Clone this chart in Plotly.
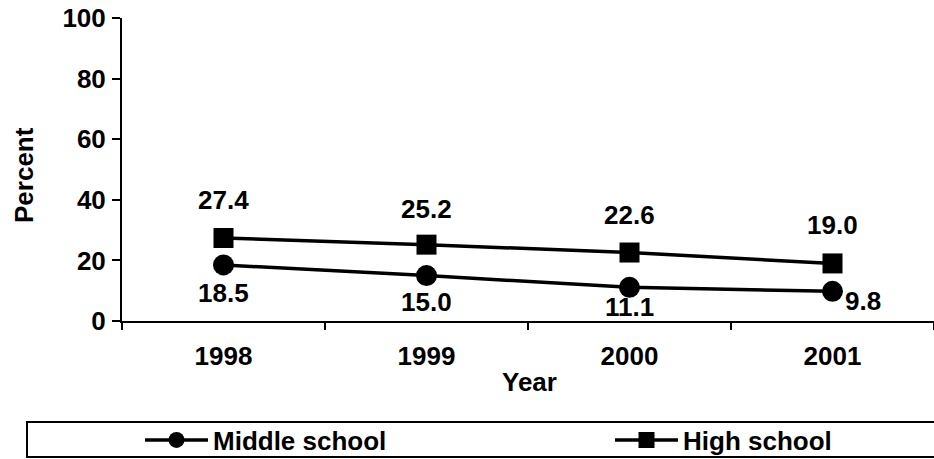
import plotly.graph_objects as go

years = ["1998", "1999", "2000", "2001"]
middle_school = [18.5, 15.0, 11.1, 9.8]
high_school = [27.4, 25.2, 22.6, 19.0]
y_ticks = [0, 20, 40, 60, 80, 100]

FONT = "Liberation Sans, Arial, sans-serif"
FS = 26

# label offsets (px) relative to each marker
ms_offsets = [(0, -28), (0, -26), (0, -20), (30, -10)]
hs_offsets = [(0, 38), (0, 36), (0, 38), (0, 38)]

fig = go.Figure()
fig.add_trace(go.Scatter(
    x=years, y=middle_school, name="Middle school", mode="lines+markers",
    line=dict(color="black", width=3.5),
    marker=dict(symbol="circle", size=21, color="black"),
    legend="legend",
))
fig.add_trace(go.Scatter(
    x=years, y=high_school, name="High school", mode="lines+markers",
    line=dict(color="black", width=3.5),
    marker=dict(symbol="square", size=20, color="black"),
    legend="legend2",
))

lab_font = dict(family=FONT, size=FS, color="black", weight="bold")
annotations = []
for i, (v, (dx, dy)) in enumerate(zip(middle_school, ms_offsets)):
    annotations.append(dict(x=i, y=v, text=f"{v:.1f}", showarrow=False,
                            xshift=dx, yshift=dy, font=lab_font))
for i, (v, (dx, dy)) in enumerate(zip(high_school, hs_offsets)):
    annotations.append(dict(x=i, y=v, text=f"{v:.1f}", showarrow=False,
                            xshift=dx, yshift=dy, font=lab_font))

PW, PH = 812, 303
annotations.append(dict(xref="paper", yref="paper", x=(24 - 122) / PW, y=0.5 - (175 - 169.5) / PH,
                        text="Percent", textangle=-90, showarrow=False,
                        xanchor="center", yanchor="middle", font=lab_font))
annotations.append(dict(xref="paper", yref="paper", x=(529 - 122) / PW, y=(321 - 382) / PH,
                        text="Year", showarrow=False, xanchor="center", yanchor="middle",
                        font=lab_font))

leg_common = dict(orientation="h", xanchor="left", y=(321 - 440) / PH, yanchor="middle",
                  itemwidth=63, bgcolor="rgba(0,0,0,0)", borderwidth=0, font=lab_font)

fig.update_layout(
    width=934, height=459,
    margin=dict(l=122, r=0, t=18, b=459 - 321, autoexpand=False),
    paper_bgcolor="white", plot_bgcolor="white",
    font=lab_font,
    showlegend=True,
    hovermode=False,
    legend=dict(x=(140 - 122) / PW, **leg_common),
    legend2=dict(x=(610 - 122) / PW, **leg_common),
    xaxis=dict(type="category", categoryorder="array", categoryarray=years,
               range=[-0.5, 3.5], tickson="boundaries", ticks="outside",
               ticklen=7, tickwidth=2, tickcolor="black",
               showline=True, linewidth=2, linecolor="black",
               showgrid=False, zeroline=False, ticklabelstandoff=11),
    yaxis=dict(range=[0, 100], tickvals=y_ticks, ticks="outside",
               ticklen=8, tickwidth=2, tickcolor="black",
               showline=True, linewidth=2, linecolor="black",
               showgrid=False, zeroline=False, ticklabelstandoff=1,
               ticklabeloverflow="allow"),
    annotations=annotations,
    shapes=[dict(type="rect", xref="paper", yref="paper",
                 x0=(27 - 122) / PW, x1=(940 - 122) / PW,
                 y0=(321 - 457) / PH, y1=(321 - 422) / PH,
                 line=dict(color="black", width=2), fillcolor="rgba(0,0,0,0)")],
)

fig.write_html("out.html",
               config={"displayModeBar": False},
               post_script="document.body.style.margin='0';document.body.style.overflow='hidden';")
